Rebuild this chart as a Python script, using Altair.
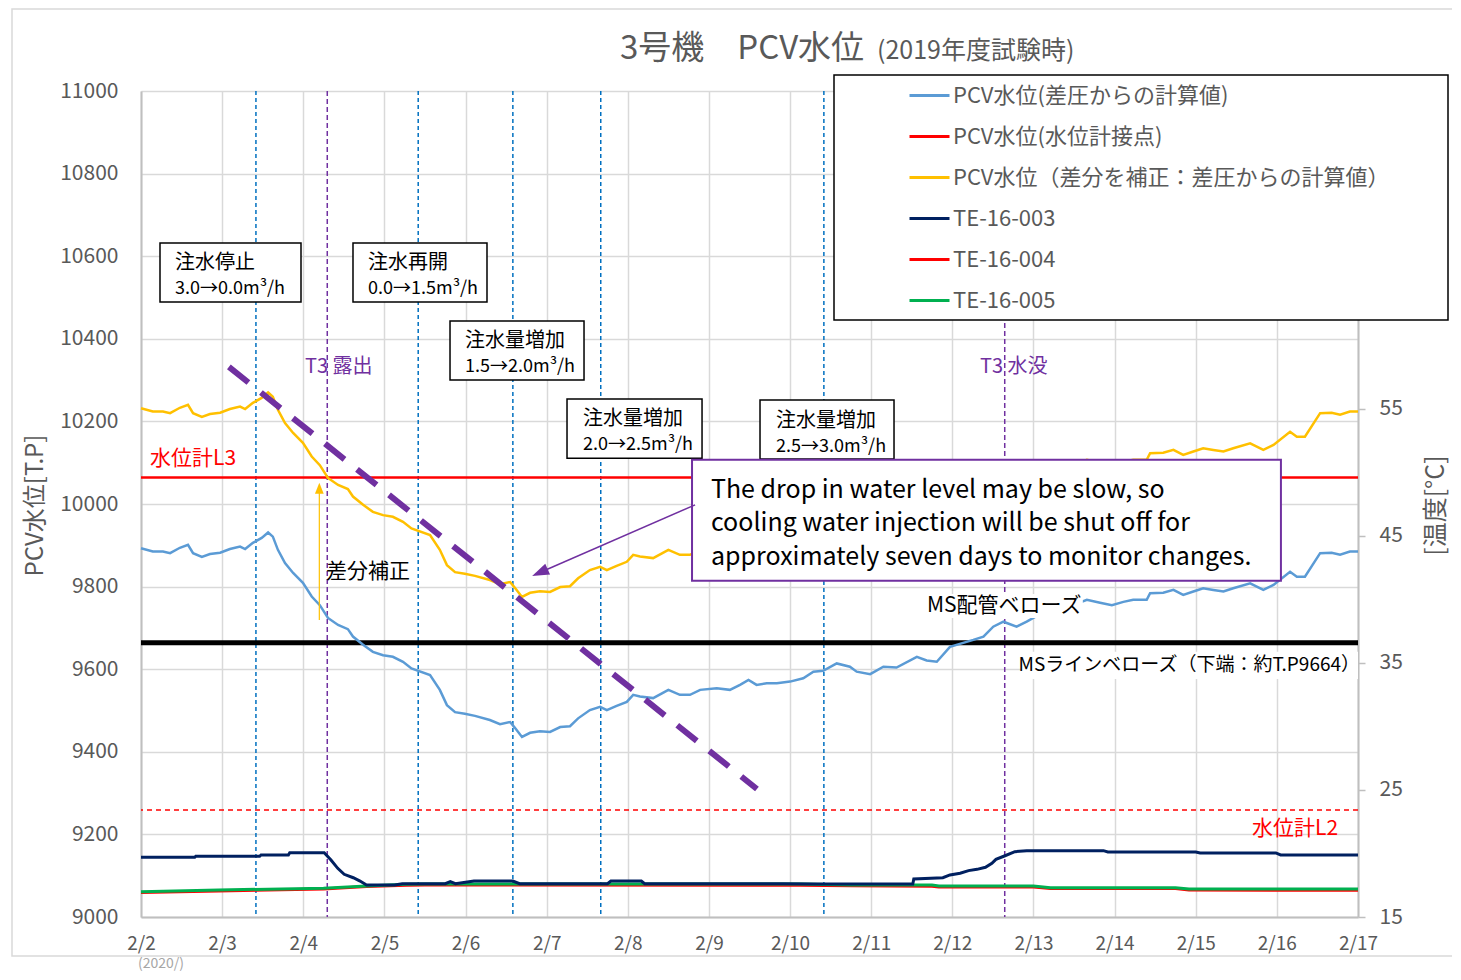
import altair as alt
import pandas as pd

JP = "Noto Sans CJK JP"
START = pd.Timestamp("2020-02-02 00:00:00")


def iso(hours):
    return [(START + pd.Timedelta(hours=float(h))).strftime("%Y-%m-%dT%H:%M:%S") for h in hours]


# ---------------- data ----------------
series_names = [
    "PCV水位(差圧からの計算値)",
    "PCV水位(水位計接点)",
    "PCV水位（差分を補正：差圧からの計算値）",
    "TE-16-003",
    "TE-16-004",
    "TE-16-005",
]
series_colors = ["#5B9BD5", "#FF0000", "#FFC000", "#002060", "#FF0000", "#00B050"]

# hours since 2020/2/2 00:00
pcv_hours = [0, 3.5, 6.5, 8.6, 11.5, 13.9, 15.4, 18, 20.4, 23.4,
             26.3, 29.3, 30.8, 33.1, 35.7, 37.6, 39, 40.5, 42.6, 45,
             47.9, 50.5, 52.9, 55.3, 58.3, 61.2, 62.7, 65.7, 68.6, 71.6,
             74.5, 77.5, 80, 85.5, 88.4, 90.5, 92.9, 95.8, 98.8, 103.2,
             106.2, 109.2, 110.6, 112.7, 115.1, 118, 121, 124, 126.9, 129.3,
             132.8, 135.8, 137.8, 140.7, 143.7, 145.6, 147.6, 151.5, 156, 159.4,
             162.4, 165.4, 170.3, 174.2, 177.2, 179.7, 182.1, 185.1, 188.1, 192,
             195.9, 198.9, 201.8, 205.8, 209.7, 211.7, 215.7, 219.6, 223.5, 229.5,
             232.4, 235.4, 239.3, 246.2, 249.2, 252.1, 255.1, 259, 262, 265,
             267.9, 271.9, 275.7, 279.8, 283.7, 287.2, 290.6, 293.5, 297.5, 298.5,
             302.4, 305.4, 308.3, 311.3, 314.2, 317.2, 320.2, 323.1, 328.1, 332,
             335, 339.9, 341.9, 344.3, 348.8, 352.2, 354.7, 357.6, 360]
pcv_dp = [9893, 9885, 9885, 9881, 9894, 9901, 9881, 9872, 9879, 9882,
          9891, 9897, 9891, 9906, 9918, 9931, 9921, 9889, 9857, 9833,
          9809, 9776, 9755, 9724, 9707, 9697, 9679, 9659, 9642, 9634,
          9630, 9618, 9602, 9586, 9550, 9513, 9496, 9492, 9487, 9477,
          9467, 9472, 9458, 9436, 9446, 9450, 9448, 9460, 9462, 9481,
          9501, 9509, 9501, 9511, 9521, 9538, 9534, 9530, 9550, 9538,
          9538, 9550, 9554, 9550, 9562, 9574, 9562, 9566, 9566, 9570,
          9578, 9594, 9596, 9614, 9606, 9594, 9588, 9606, 9604, 9630,
          9621, 9618, 9654, 9671, 9679, 9703, 9715, 9703, 9715, 9729,
          9731, 9743, 9755, 9768, 9761, 9755, 9763, 9768, 9768, 9784,
          9785, 9792, 9780, 9788, 9796, 9792, 9788, 9796, 9808, 9792,
          9804, 9836, 9824, 9824, 9881, 9882, 9877, 9885, 9885]
pcv_corr = [10232, 10224, 10224, 10220, 10233, 10240, 10220, 10211, 10218, 10221,
            10230, 10236, 10230, 10245, 10257, 10270, 10260, 10228, 10196, 10172,
            10148, 10115, 10094, 10063, 10046, 10036, 10018, 9998, 9981, 9973,
            9969, 9957, 9941, 9925, 9889, 9852, 9835, 9831, 9826, 9816,
            9806, 9811, 9797, 9775, 9785, 9789, 9787, 9799, 9801, 9820,
            9840, 9848, 9840, 9850, 9860, 9877, 9873, 9869, 9889, 9877,
            9877, 9889, 9893, 9889, 9901, 9913, 9901, 9905, 9905, 9909,
            9917, 9933, 9935, 9953, 9945, 9933, 9927, 9945, 9943, 9969,
            9960, 9957, 9993, 10010, 10018, 10042, 10054, 10042, 10054, 10068,
            10070, 10082, 10094, 10107, 10100, 10094, 10102, 10107, 10107, 10123,
            10124, 10131, 10119, 10127, 10135, 10131, 10127, 10135, 10147, 10131,
            10143, 10175, 10163, 10163, 10220, 10221, 10216, 10224, 10224]

gauge_hours = [0, 360]
gauge_level = [10064, 10064]

te003_hours = [0, 15.9, 16.2, 35.1, 35.5, 43.6, 44, 54.2, 56.2, 58.2,
               60.1, 62.8, 64.8, 66.7, 75, 77.3, 90, 91.5, 93, 98.5,
               110, 112, 138, 139, 148, 149, 190, 200, 228.3, 228.6,
               237.2, 239.3, 242.3, 244.8, 247.3, 249.8, 251.7, 252.9, 255.4, 258.5,
               262, 284.7, 286, 312, 313.3, 335.7, 337.1, 360]
te003 = [19.70, 19.70, 19.78, 19.78, 19.88, 19.88, 20.06, 20.06, 19.49, 18.83,
         18.36, 18.09, 17.83, 17.52, 17.52, 17.62, 17.62, 17.78, 17.62, 17.83,
         17.83, 17.62, 17.62, 17.83, 17.83, 17.62, 17.62, 17.60, 17.60, 17.99,
         18.09, 18.31, 18.44, 18.65, 18.75, 18.91, 19.23, 19.54, 19.80, 20.14,
         20.22, 20.22, 20.12, 20.12, 20.04, 20.04, 19.88, 19.88]

te004_hours = [0, 23, 54, 66.7, 78.5, 84, 195, 210, 234, 236, 264, 269, 306, 310, 360]
te004 = [16.92, 17.05, 17.20, 17.40, 17.50, 17.52, 17.50, 17.45, 17.42, 17.36,
         17.36, 17.24, 17.24, 17.12, 17.10]

te005_hours = [0, 23, 54, 66.7, 78.5, 84, 195, 210, 234, 236, 264, 269, 306, 310, 360]
te005 = [16.99, 17.13, 17.26, 17.44, 17.57, 17.60, 17.60, 17.52, 17.52, 17.44,
         17.44, 17.31, 17.31, 17.20, 17.20]

event_hours = [34, 82, 110, 136, 202]          # injection changes
t3_hours = [55.1, 255.5]                        # T3 exposed / submerged
ms_line_level = 9664
l2_level = 9259

# ---------------- scales / axes ----------------
day_ticks = [alt.DateTime(year=2020, month=2, date=d) for d in range(2, 18)]
xscale = alt.Scale(domain=[alt.DateTime(year=2020, month=2, date=2),
                           alt.DateTime(year=2020, month=2, date=17)], nice=False)
x_axis = alt.Axis(values=day_ticks, format="%-m/%-d", title=None, labelFont=JP,
                  labelFontSize=19, labelColor="#595959", labelPadding=17,
                  ticks=False, tickSize=0, domainColor="#BFBFBF", domainWidth=2,
                  grid=True, gridColor="#D9D9D9", gridWidth=1.5,
                  labelOverlap=False, labelFlush=False)
left_axis = alt.Axis(values=list(range(9000, 11001, 200)), format="d",
                     title="PCV水位[T.P]", titleFont=JP, titleFontSize=24,
                     titleFontWeight="normal", titleColor="#595959", titleAngle=270,
                     titleX=-106, titleY=414, titleAlign="center", titleBaseline="middle",
                     labelFont=JP, labelFontSize=21, labelColor="#595959", labelPadding=23,
                     ticks=False, tickSize=0, domainColor="#BFBFBF", domainWidth=2,
                     grid=True, gridColor="#D9D9D9", gridWidth=1.5)
right_axis = alt.Axis(orient="right", values=[15, 25, 35, 45, 55], format="d",
                      title="[温度[°C]", titleFont=JP, titleFontSize=25,
                      titleFontWeight="normal", titleColor="#595959", titleAngle=270,
                      titleX=77, titleY=414, titleAlign="center", titleBaseline="middle",
                      labelFont=JP, labelFontSize=21, labelColor="#595959", labelPadding=14,
                      ticks=True, tickSize=7, tickColor="#BFBFBF", tickWidth=1.5,
                      domainColor="#BFBFBF", domainWidth=2, grid=False)

LVL = alt.Scale(domain=[9000, 11000], nice=False, zero=False)
TMP = alt.Scale(domain=[15, 80], nice=False, zero=False)
cscale = alt.Scale(domain=series_names, range=series_colors)
legend = alt.Legend(orient="none", legendX=767, legendY=-17, title=None,
                    symbolType="stroke", symbolSize=1600, symbolStrokeWidth=3,
                    labelFont=JP, labelFontSize=22, labelColor="#595959",
                    labelLimit=700, labelOffset=2, rowPadding=8, padding=0,
                    direction="vertical")


def X(field="t"):
    return alt.X(f"{field}:T", scale=xscale, axis=x_axis)


def YL(field="v", axis=None):
    return alt.Y(f"{field}:Q", scale=LVL, axis=axis)


def YT(field="T", axis=None):
    return alt.Y(f"{field}:Q", scale=TMP, axis=axis)


def H(h):
    return iso([h])[0]


one = pd.DataFrame({"a": [0]})

# ---------------- layers ----------------
frame = alt.Chart(one).mark_rect(fillOpacity=0, stroke="#D9D9D9", strokeWidth=1.5).encode(
    x=alt.value(-129), x2=alt.value(1345), y=alt.value(-82), y2=alt.value(865))

ev_rules = alt.Chart(pd.DataFrame({"t": iso(event_hours)})).mark_rule(
    color="#0070C0", strokeDash=[4, 3], strokeWidth=1.5).encode(x=X())
t3_rules = alt.Chart(pd.DataFrame({"t": iso(t3_hours)})).mark_rule(
    color="#7030A0", strokeDash=[5, 3], strokeWidth=1.5).encode(x=X())
l2_rule = alt.Chart(pd.DataFrame({"v": [l2_level]})).mark_rule(
    color="#FF0000", strokeDash=[5, 4], strokeWidth=1.5).encode(y=YL())
ms_rule = alt.Chart(pd.DataFrame({"v": [ms_line_level]})).mark_rule(
    color="black", strokeWidth=5).encode(y=YL())


def temp_layer(hours, vals, name, axis=None):
    df = pd.DataFrame({"t": iso(hours), "T": vals, "s": name})
    return alt.Chart(df).mark_line(strokeWidth=3, interpolate="linear").encode(
        x=X(), y=YT(axis=axis),
        color=alt.Color("s:N", scale=cscale, legend=legend))


def level_layer(hours, vals, name, axis=None, width=2.5):
    df = pd.DataFrame({"t": iso(hours), "v": vals, "s": name})
    return alt.Chart(df).mark_line(strokeWidth=width).encode(
        x=X(), y=YL(axis=axis),
        color=alt.Color("s:N", scale=cscale, legend=legend))


te004_l = temp_layer(te004_hours, te004, series_names[4])
te005_l = temp_layer(te005_hours, te005, series_names[5])
te003_l = temp_layer(te003_hours, te003, series_names[3], axis=right_axis)
gauge_l = level_layer(gauge_hours, gauge_level, series_names[1], width=2.5)
blue_l = level_layer(pcv_hours, pcv_dp, series_names[0], axis=left_axis)
yellow_l = level_layer(pcv_hours, pcv_corr, series_names[2])

# thick purple dashed trend line
trend = alt.Chart(pd.DataFrame({"t": [H(26.0)], "t2": [H(182.2)], "v": [10332], "v2": [9310]})).mark_rule(
    color="#7030A0", strokeWidth=6, strokeDash=[25, 16], strokeCap="butt").encode(
    x=X(), x2="t2:T", y=YL(), y2="v2:Q")

# yellow arrow (差分補正)
yarrow = alt.Chart(pd.DataFrame({"t": [H(52.75)], "v": [9719], "v2": [10036]})).mark_rule(
    color="#FFC000", strokeWidth=1.2).encode(x=X(), y=YL(), y2="v2:Q")
yhead = alt.Chart(pd.DataFrame({"t": [H(52.75)], "v": [10038]})).mark_point(
    shape="M0,-1L0.8,1L-0.8,1Z", size=120, filled=True, color="#FFC000", opacity=1).encode(
    x=X(), y=YL())

# white backgrounds behind two labels
label_bg = alt.Chart(pd.DataFrame({"t": [H(231.6), H(260.6)], "t2": [H(278.6), H(360.0)],
                                   "v": [9782, 9642], "v2": [9724, 9576]})).mark_rect(
    fill="white").encode(x=X(), x2="t2:T", y=YL(), y2="v2:Q")


def text_layer(rows, color, size, align="left"):
    df = pd.DataFrame(rows, columns=["h", "v", "label"])
    df["t"] = iso(df["h"])
    return alt.Chart(df).mark_text(align=align, baseline="middle", font=JP,
                                   fontSize=size, color=color).encode(
        x=X(), y=YL(), text="label:N")


lbl_l3 = text_layer([(2.66, 10109, "水位計L3")], "#FF0000", 21)
lbl_t3 = text_layer([(48.5, 10332, "T3 露出"), (248.2, 10332, "T3 水没")], "#7030A0", 20)
lbl_diff = text_layer([(54.7, 9835, "差分補正")], "black", 21)
lbl_ms = text_layer([(232.5, 9753, "MS配管ベローズ")], "black", 21)
lbl_msl = text_layer([(360.6, 9610, "MSラインベローズ（下端：約T.P9664）")], "black", 19, align="right")
lbl_l2 = text_layer([(354.1, 9213, "水位計L2")], "#FF0000", 21, align="right")

# injection event boxes
box_df = pd.DataFrame({
    "t": [H(5.62), H(62.71), H(91.41), H(126.02), H(183.11)],
    "t2": [H(47.33), H(102.35), H(131.05), H(165.96), H(222.75)],
    "v": [10632, 10632, 10443, 10254, 10252],
    "v2": [10489, 10489, 10300, 10111, 10109],
})
boxes = alt.Chart(box_df).mark_rect(fill="white", stroke="black", strokeWidth=1.5).encode(
    x=X(), x2="t2:T", y=YL(), y2="v2:Q")
box_head = text_layer([
    (10.06, 10583, "注水停止"),
    (67.15, 10583, "注水再開"),
    (95.85, 10395, "注水量増加"),
    (130.75, 10206, "注水量増加"),
    (187.85, 10201, "注水量増加"),
], "black", 20)
box_rate = text_layer([
    (10.06, 10521, "3.0→0.0m³/h"),
    (67.15, 10521, "0.0→1.5m³/h"),
    (95.85, 10332, "1.5→2.0m³/h"),
    (130.75, 10143, "2.0→2.5m³/h"),
    (187.85, 10138, "2.5→3.0m³/h"),
], "black", 18)

# callout
callout_box = alt.Chart(pd.DataFrame({"t": [H(163.0)], "t2": [H(337.2)], "v": [10107], "v2": [9814]})).mark_rect(
    fill="white", stroke="#7030A0", strokeWidth=2).encode(x=X(), x2="t2:T", y=YL(), y2="v2:Q")
callout_text = text_layer([
    (168.6, 10034, "The drop in water level may be slow, so"),
    (168.6, 9954, "cooling water injection will be shut off for"),
    (168.6, 9872, "approximately seven days to monitor changes."),
], "black", 25)
parrow = alt.Chart(pd.DataFrame({"t": [H(163.9)], "t2": [H(118.0)], "v": [9998], "v2": [9834]})).mark_rule(
    color="#7030A0", strokeWidth=1.5).encode(x=X(), x2="t2:T", y=YL(), y2="v2:Q")
phead = alt.Chart(pd.DataFrame({"t": [H(118.0)], "v": [9834]})).mark_point(
    shape="M0,-1L0.7,1L-0.7,1Z", size=289, filled=True, color="#7030A0", opacity=1,
    angle=246).encode(x=X(), y=YL())

legend_box = alt.Chart(one).mark_rect(fill="white", stroke="black", strokeWidth=1.5).encode(
    x=alt.value(693), x2=alt.value(1307), y=alt.value(-16), y2=alt.value(229))

title_main = alt.Chart(one).mark_text(align="left", baseline="alphabetic", font=JP,
                                      fontSize=33, color="#595959").encode(
    x=alt.value(479), y=alt.value(-32), text=alt.value("3号機　PCV水位"))
title_sub = alt.Chart(one).mark_text(align="left", baseline="alphabetic", font=JP,
                                     fontSize=25, color="#595959").encode(
    x=alt.value(736), y=alt.value(-32), text=alt.value("(2019年度試験時)"))
year_note = alt.Chart(one).mark_text(align="left", baseline="top", font=JP,
                                     fontSize=14, color="#A6A6A6").encode(
    x=alt.value(-3), y=alt.value(866), text=alt.value("(2020/)"))

chart = alt.layer(
    frame, ev_rules, t3_rules, l2_rule, ms_rule,
    te004_l, te005_l, te003_l, gauge_l, blue_l, yellow_l,
    trend, yarrow, yhead, label_bg,
    lbl_l3, lbl_t3, lbl_diff, lbl_ms, lbl_msl, lbl_l2,
    boxes, box_head, box_rate, callout_box, callout_text, parrow, phead,
    legend_box, title_main, title_sub, year_note,
).resolve_scale(y="independent").properties(
    width=1217, height=826,
    padding={"left": 133, "top": 83, "right": 94, "bottom": 55},
    autosize=alt.AutoSizeParams(type="none"),
    background="white",
).configure_view(strokeWidth=0)

chart.save("out.html", embed_options={"renderer": "svg", "actions": False})
